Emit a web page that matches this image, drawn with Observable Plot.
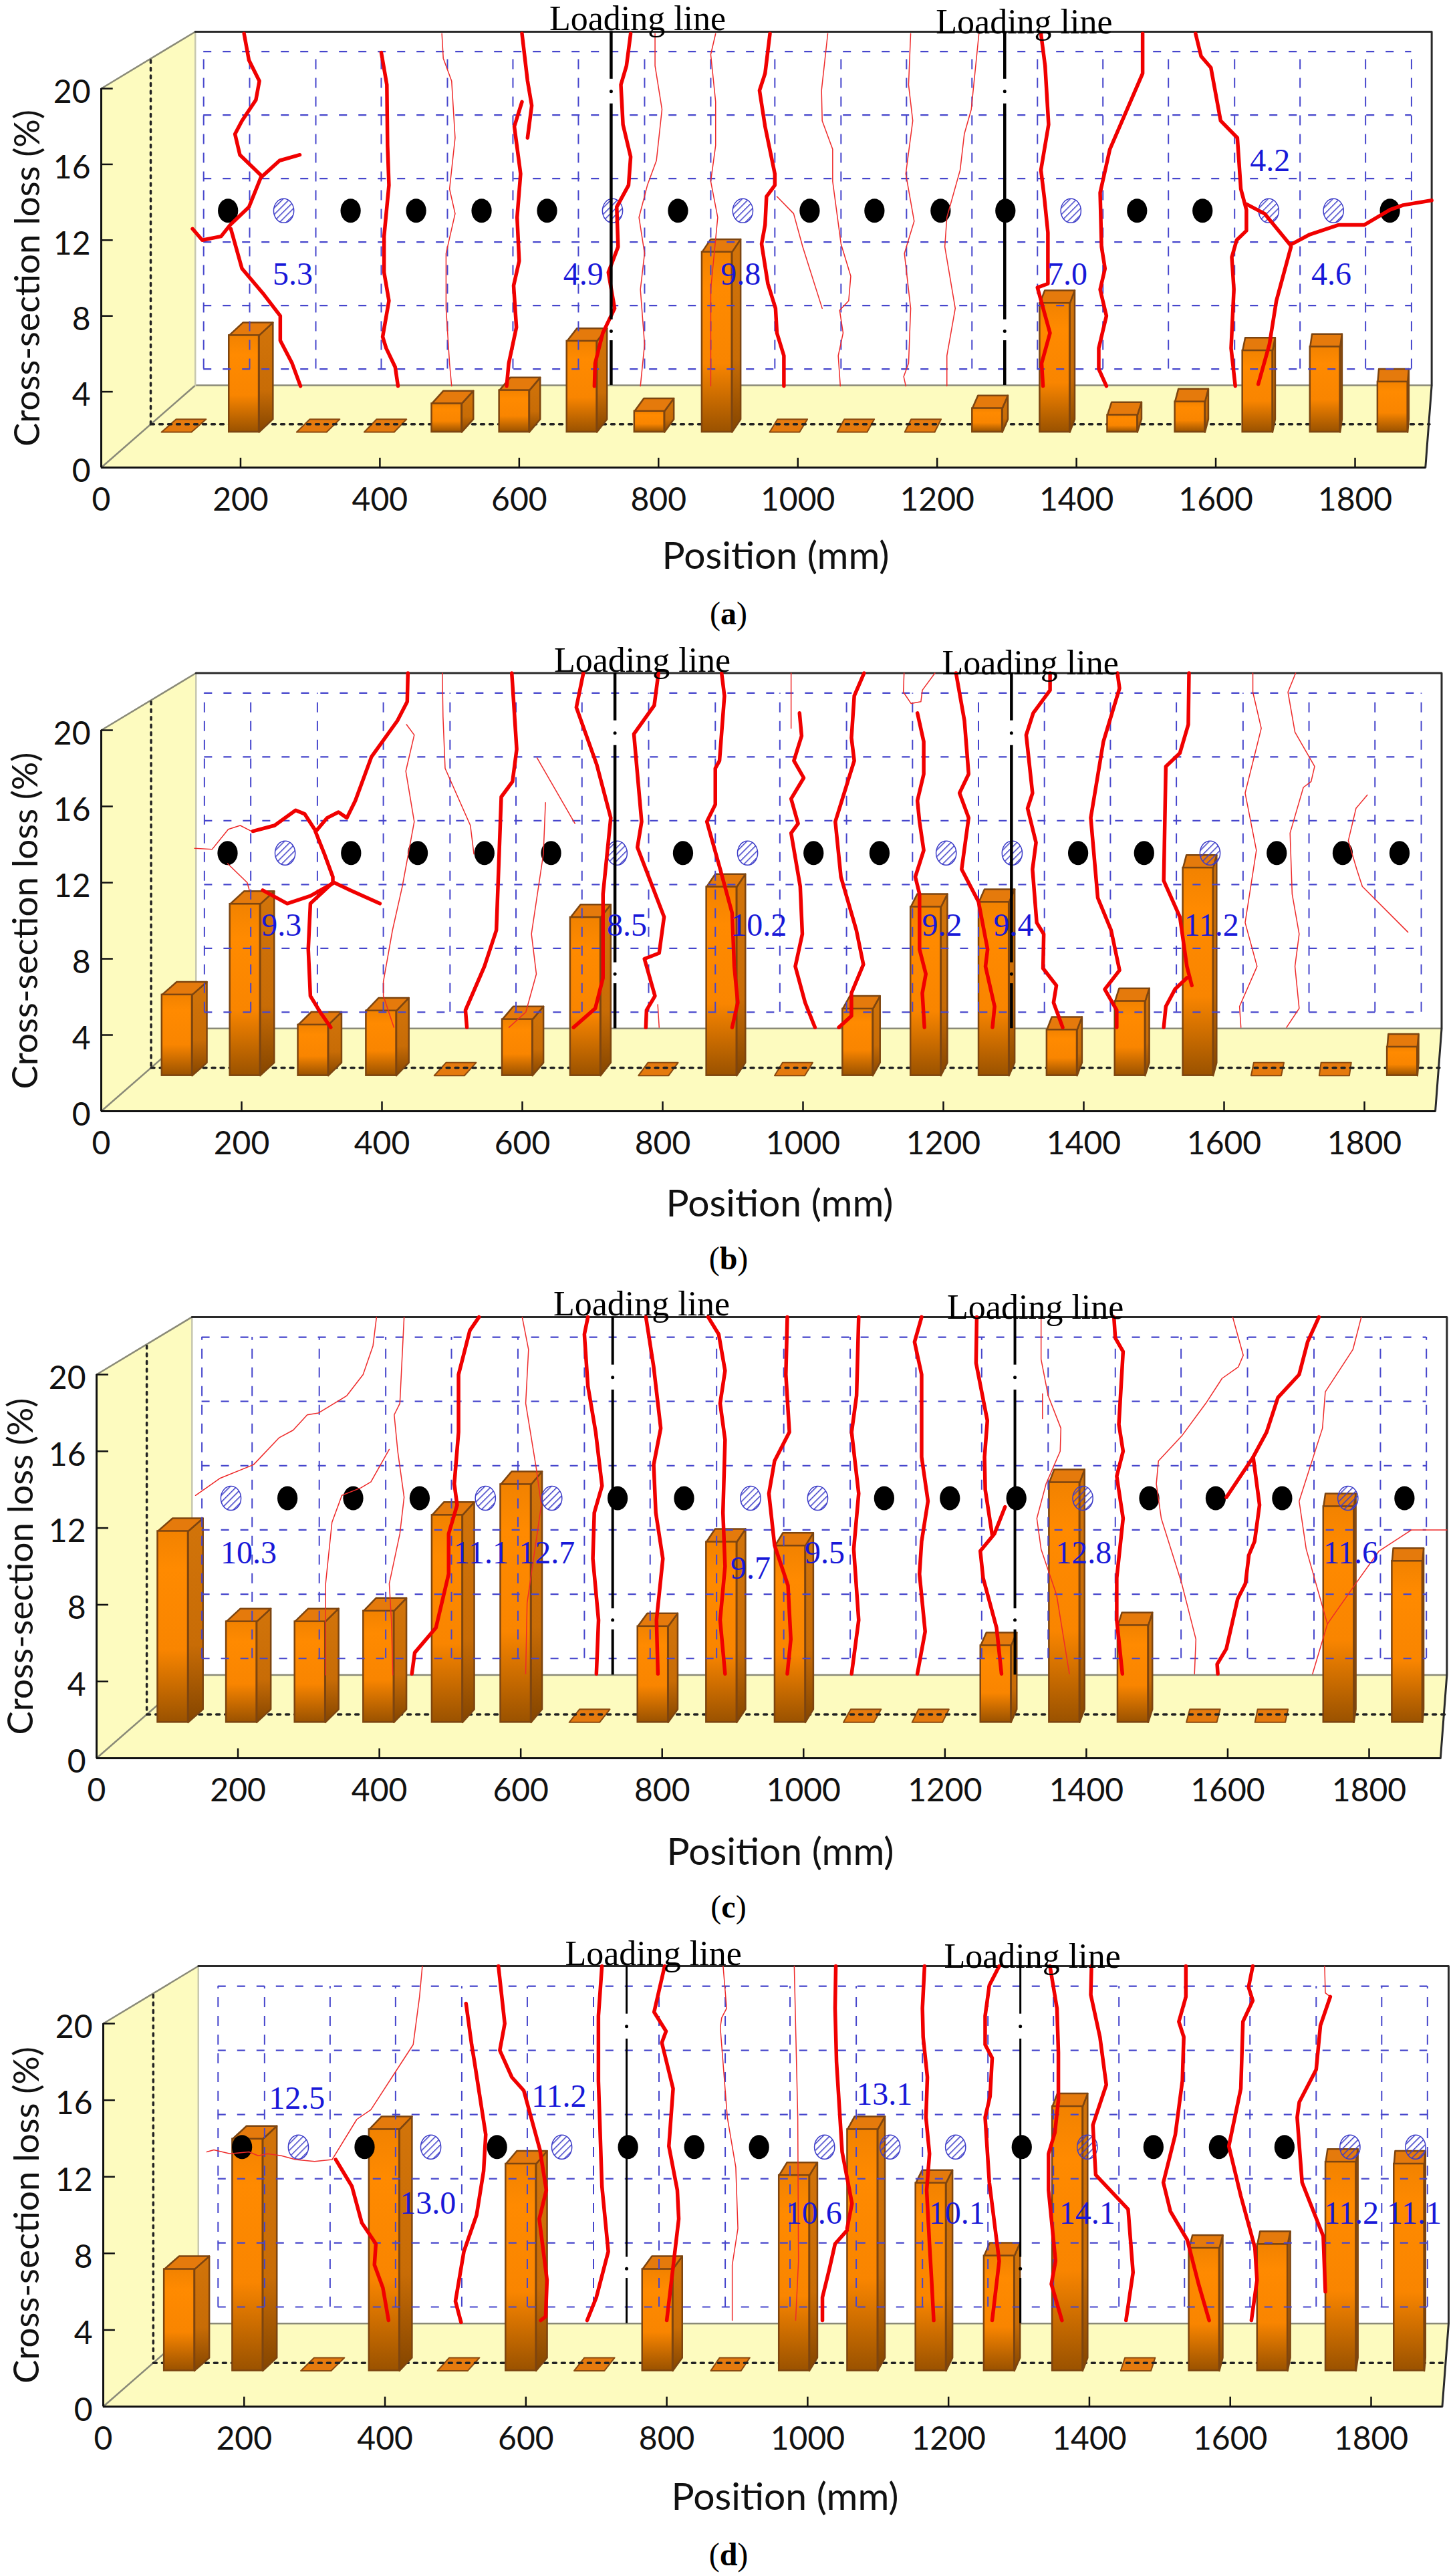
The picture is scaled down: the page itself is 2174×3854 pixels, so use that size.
<!DOCTYPE html>
<html><head><meta charset="utf-8">
<script src="https://cdn.jsdelivr.net/npm/d3@7"></script>
<script src="https://cdn.jsdelivr.net/npm/@observablehq/plot@0.6"></script>
<style>
html,body{margin:0;padding:0;background:#fff;width:2174px;height:3854px;overflow:hidden}
#root{position:relative;width:2174px;height:3854px}
.panel{position:absolute;left:0}
.cap{position:absolute;left:0;width:2180px;text-align:center;font:48px "Liberation Serif",serif;color:#000;line-height:54px}
</style></head><body><div id="root"></div>
<script>
// ---------- shared reading lists ----------
const xTicks=[0,200,400,600,800,1000,1200,1400,1600,1800];
const yTicks=[0,4,8,12,16,20];
const barCenters=[108,205,302,399,496,593,690,787,884,981,1078,1175,1272,1369,1466,1563,1660,1757,1854];
const gridLevels=[21.95,18.6,15.25,11.9,8.55,5.2];
const gridAB=[147,213,308,402,497,591,685,780,875,967,1062,1156,1250,1344,1438,1532,1627,1721,1815,1881];
const gridC=[149,220,315,409,502,596,690,783,877,972,1066,1159,1252,1346,1441,1534,1628,1722,1816,1881];
const gridD=[163,229,322,415,509,602,696,789,883,975,1069,1163,1256,1349,1442,1535,1628,1722,1815,1880];

// ---------- bar values ----------
const barsA=[0,5.1,0,0,1.5,2.2,4.8,1.1,9.5,0,0,0,1.25,6.8,0.9,1.6,4.3,4.5,2.65];
const barsB=[4.24,9.0,2.66,3.4,0,2.95,8.3,0,9.9,0,3.5,8.85,9.1,2.4,3.9,10.9,0,0,1.5];
const barsC=[9.96,5.25,5.25,5.8,10.8,12.4,0,5.0,9.4,9.2,0,0,4.0,12.5,5.05,0,0,11.25,8.4];
const barsD=[5.3,12.1,0,12.6,0,10.8,0,5.3,0,10.2,12.6,9.8,6.0,13.8,0,6.4,6.6,10.9,10.8];

// ---------- rebar hole row ----------
const solidA=[182,358,452,546,640,828,1017,1110,1205,1298,1487,1581,1850];
const hatchA=[262,734,921,1392,1676,1769];
const solidB=[180,356,451,546,641,829,1015,1109,1392,1486,1675,1769,1850];
const hatchB=[262,735,921,1204,1298,1580];
const solidC=[270,363,457,737,831,1114,1207,1301,1489,1583,1677,1850];
const hatchC=[190,550,644,925,1020,1395,1770];
const solidD=[197,371,559,745,839,931,1304,1491,1584,1677];
const hatchD=[277,465,651,1024,1117,1210,1397,1770,1863];

// ---------- loading lines ----------
const loadA=[732,1297], loadTextA=[770,1325];
const loadB=[732,1297], loadTextB=[771,1324];
const loadC=[730,1299], loadTextC=[771,1328];
const loadD=[743,1302], loadTextD=[781,1319];
const loadSpans=[[23,20.5],[19.2,7.8],[6.7,4.34]];
const loadDots=[19.85,7.2];

// ---------- value labels [text, mm, %] ----------
const labelsA=[["5.3",275,10.2],["4.9",692,10.2],["9.8",918,10.2],["7.0",1387,10.2],["4.2",1678,16.2],["4.6",1766,10.2]];
const labelsB=[["9.3",257,9.76],["8.5",749,9.76],["10.2",937,9.76],["9.2",1198,9.76],["9.4",1300,9.76],["11.2",1582,9.76]];
const labelsC=[["10.3",215,10.7],["11.1",544,10.7],["12.7",637,10.7],["9.7",925,9.9],["9.5",1030,10.7],["12.8",1396,10.7],["11.6",1774,10.7]];
const labelsD=[["12.5",275,16.1],["13.0",461,10.6],["11.2",647,16.2],["13.1",1109,16.3],["10.6",1009,10.1],["10.1",1212,10.1],["14.1",1397,10.1],["11.2",1772,10.1],["11.1",1861,10.1]];

// ---------- cracks: [thick?1:0, positions mm, heights %] ----------
const cracksA=[
[1,[205,212,227,222,202,192,199,230],[22.9,21.5,20.4,19.4,18.3,17.6,16.5,15.4]],
[1,[285,256,229,212,185,172,145,131],[16.5,16.2,15.3,13.75,12.8,12.2,12.0,12.6]],
[1,[186,202,232,257,257,274,286],[12.6,10.5,9.2,8.0,6.7,5.5,4.3]],
[1,[402,410,411,413,406,406,413,404,409,422,426],[21.9,20.2,17.0,14.9,12.2,10.3,8.8,6.9,6.3,5.3,4.3]],
[0,[489,491,503,508,500,508,495,495,500,503],[22.9,21.6,20.4,17.4,14.7,13.4,11.3,8.4,5.5,4.3]],
[1,[604,612,618,612],[22.9,20.4,19.1,17.4]],
[1,[604,593,602,597,600,592,596,585,582],[19.3,18.0,15.5,13.2,10.9,9.6,7.4,5.5,4.3]],
[1,[760,754,746,749,760,757,740,742,728,737,720,709,708],[22.9,21.2,20.2,18.1,16.4,14.9,13.75,11.65,10.3,8.4,7.1,5.5,4.3]],
[0,[795,795,805,797,784,772,780,774,780,774],[22.9,21.2,18.9,16.2,14.9,13.2,11.3,9.4,6.5,4.3]],
[0,[882,875,882,882,875,885,875,875],[22.9,21.8,19.3,17.0,15.1,13.2,9.4,4.3]],
[1,[960,953,945,953,967,967,955,953,948,957,968,970,980,980],[22.9,20.8,19.9,18.0,15.5,14.9,14.3,12.8,11.8,9.7,8.4,7.1,5.9,4.3]],
[0,[970,994,1007,1035],[14.3,13.4,11.65,8.4]],
[0,[1043,1034,1035,1050,1050,1062,1076,1073,1060,1065,1058,1061],[22.9,19.9,18.3,16.8,15.1,11.8,10.1,8.8,8.3,7.1,5.9,4.3]],
[0,[1162,1159,1165,1155,1167,1153,1162,1159,1152,1155],[22.9,20.2,18.3,15.5,13.0,11.3,8.4,5.5,4.8,4.3]],
[0,[1260,1249,1239,1233,1214,1211,1226,1214,1214],[22.9,18.9,17.6,15.7,13.2,11.65,8.4,5.9,4.3]],
[1,[1349,1355,1360,1349,1354,1359,1359,1344,1362,1350,1352],[22.9,21.2,18.1,15.7,14.2,12.4,9.7,9.5,7.1,5.5,4.3]],
[1,[1495,1495,1448,1434,1436,1441,1434,1443,1432,1432,1443],[22.9,20.8,16.8,14.5,11.65,10.5,9.4,8.0,6.3,5.2,4.3]],
[1,[1571,1579,1593,1607,1631,1636,1644,1644,1630,1623,1626,1622,1628],[22.9,21.7,21.1,18.3,17.4,14.7,13.6,12.5,12.0,11.1,9.4,6.3,4.3]],
[1,[1644,1670,1707],[13.9,13.4,11.75]],
[1,[1707,1735,1776,1813,1850,1869,1910],[11.75,12.3,12.8,12.8,13.6,13.85,14.1]],
[1,[1708,1687,1677,1661],[11.65,8.8,6.5,4.4]]
];
const cracksB=[
[1,[437,436,422,385,362,350,338,322,306],[23.0,21.5,20.5,18.6,16.3,15.4,15.7,15.4,14.7]],
[1,[216,247,277,290,304],[14.7,15.0,15.8,15.6,14.8]],
[1,[305,318,330,330,298,295,298,312,327],[14.7,13.5,12.3,12.0,10.9,8.5,6.05,5.2,4.4]],
[1,[230,265,298,332,355,397],[11.6,10.9,11.3,12.0,11.6,10.9]],
[0,[133,158,181,198,214],[13.8,13.75,14.8,15.0,14.7]],
[0,[180,208,211],[13.0,12.0,11.6]],
[0,[435,446,434,446,429,415,402,402,417],[20.3,19.75,17.85,15.2,11.8,9.5,6.8,6.05,4.4]],
[0,[486,487,490,526,531],[23,20.7,18.0,15.0,13.5]],
[1,[585,592,586,570,563,546,519,521],[23,19,17.3,16.5,9.5,7.6,5.3,4.4]],
[0,[621,675],[18.55,15.1]],
[0,[633,630,613,620,605,581],[16.2,13.5,9.3,7.2,5.2,4.4]],
[1,[687,677,706,726,715,715,704,673],[23,21.2,18.2,15.4,11.4,7,5.4,4.4]],
[1,[794,788,759,770,764,802,795,774,789,777,776],[23,21.3,19.8,15.2,13.85,10.2,8.3,8.0,6.05,5.3,4.4]],
[0,[793,795],[5.6,4.4]],
[1,[884,888,881,875,875,863,882,899,902,907,899],[23,21.8,18.4,18,16.1,15.2,12.7,10.4,7.6,5.7,4.4]],
[0,[983,983],[23,20.1]],
[1,[995,998,987,1001,983,993,983,996,999,989,1003,1017],[20.9,19.7,18.4,17.5,16.4,15.1,14.6,11.8,9.3,7.6,5.7,4.4]],
[1,[1087,1073,1069,1073,1046,1054,1076,1086,1069,1069,1051],[23,21.8,19.6,18.4,15.2,12.3,9.5,7.7,6.2,5,4.4]],
[0,[1144,1143,1154,1168,1170,1188],[23,22,21.4,21.5,22.1,23]],
[1,[1163,1172,1172,1163,1166,1172,1160,1166,1166,1175,1170,1173],[20.9,19.4,17.7,16.3,15.2,13.7,12.3,11.4,8.5,7.2,6.2,4.4]],
[1,[1218,1230,1236,1223,1236,1226,1250,1263,1260,1273,1270],[23,20.5,17.7,16.7,15.4,12.7,11,8.5,7.6,5.5,4.4]],
[1,[1352,1352,1328,1318,1327,1320,1332,1327,1333,1343,1342,1361,1357,1370],[23,22.1,20.9,19.75,16.7,15.9,14.1,12.7,9.9,9.3,7.5,6.6,5.7,4.4]],
[1,[1448,1451,1428,1410,1420,1439,1451,1430,1447,1447],[23,22.2,19.4,15.4,11.2,9.5,7.4,6.4,5.3,4.4]],
[1,[1550,1549,1537,1517,1514,1537,1547,1554],[23,20.3,18.8,18.1,12.1,10.2,7.6,6.6]],
[1,[1514,1517,1530,1547],[4.4,5.5,6.4,7]],
[0,[1641,1641,1653,1630,1646,1630,1647,1622,1624],[23,22,20.1,16.7,13.7,9.9,7.6,5.5,4.4]],
[0,[1702,1691,1701,1729,1724,1713,1694,1697,1707,1701,1707,1689],[23,22,19.9,18.1,17.3,17,14.6,11.4,9.3,7.6,5.4,4.4]],
[0,[1804,1788,1777,1789,1797,1862],[16.6,15.9,14.2,12.7,11.8,9.4]]
];
const cracksC=[
[0,[396,391,377,354,314,298,278,258,222,175,140],[23,21.5,20,18.9,18,17.9,17.1,16.7,15.3,14.6,13.7]],
[0,[435,429,421,426,435,429,414,417,419],[23,18.5,17.9,16,13.6,11.7,9.1,7.2,4.34]],
[0,[414,388,374,347,333,324,324],[16.1,14.4,14.1,13.7,12.3,9.1,4.34]],
[1,[541,528,512,512,506,510,498,498,480,450,446],[23,22.3,20,17,14.3,13.2,11.7,9.6,6.8,5.5,4.4]],
[0,[602,611,607,622,629,624,609,607],[23,21.3,18.5,15.1,13.2,11.9,8.1,4.4]],
[1,[695,690,695,706,715,704,702,710,707],[23,22.1,19.4,17,14.2,12.8,10.4,7.2,4.4]],
[1,[777,788,798,788,791,801,792,794],[23,20.4,17.2,15.3,12.8,10.4,7.2,4.4]],
[1,[865,880,889,882,889,886,889,882,889],[23,22.1,20.2,18.5,16.6,12.8,10,7.2,4.4]],
[1,[977,975,980,959,951,959,978,982,977],[23,20,17,15.5,13.8,11.1,9,6.2,4.4]],
[1,[1078,1075,1068,1078,1071,1078,1068],[23,18.9,17,13.8,10.9,7.2,4.4]],
[1,[1167,1157,1167,1167,1176,1167,1164,1172,1161],[23,21.7,20,15.7,13.4,11.3,9.6,6.6,4.4]],
[1,[1245,1244,1260,1256,1257,1267],[23,20.6,17.6,15.7,14,11.6]],
[1,[1285,1270,1250,1254,1273,1280],[13.1,11.7,10.8,9.4,6.8,4.4]],
[0,[1336,1336,1346,1364,1363,1343,1330,1336,1358,1376],[23,20.8,18.9,17.2,16,14.3,12.5,10.9,8.5,4.4]],
[0,[1338,1338],[19,17.7]],
[1,[1439,1441,1452,1446,1452,1443,1452,1443,1443,1451],[23,21.9,21.2,17.4,16,14.7,12.5,9.4,7.2,4.4]],
[0,[1607,1622,1615,1592,1569,1535,1502,1499,1506,1535,1555,1553],[23,21,20.4,19.8,18.5,16.8,15.5,14.3,12.5,9.1,6.2,4.4]],
[1,[1729,1713,1701,1671,1655,1636,1598],[23,21.7,20,18.8,17,15.7,13.6]],
[1,[1636,1645,1638,1630,1625,1614,1598,1585,1586],[15.7,13.2,11.3,10.6,9.1,8.3,5.7,4.9,4.4]],
[0,[1789,1777,1738,1734,1701,1711,1741],[23,21.3,19.1,17.2,13.4,10.9,7]],
[0,[1720,1741,1781,1814,1860,1910],[4.4,7,9.1,10.8,11.9,11.9]]
];
const cracksD=[
[0,[453,449,440,417,380,360,325,300,273,253,233,220,207,180,157,147],[23,21.4,18.9,17.6,15.5,15,12.9,12.8,12.9,13.1,13.2,13.1,13.3,13.2,13.4,13.3]],
[1,[330,353,367,387,385,397,405],[12.9,11.5,9.6,8.5,7.4,6.2,4.5]],
[1,[515,523,527,543,540,530,512,500,508],[21.05,18.9,18,14.2,12.3,10,8.1,5.5,4.4]],
[1,[561,570,563,580,597,620,629,619,630,628,621],[23,20,18.6,17.2,16.5,13.4,11.3,9.8,6.6,4.7,4.5]],
[1,[708,703,703,708,717,700,687],[23,20.4,17,11.5,8.1,5.7,4.5]],
[1,[797,782,799,793,809,803,815,817,810,800],[23,20.6,19.6,19,16.6,13.6,11.3,9.8,7.6,4.5]],
[0,[880,885,878,876,886,898,901,893,893],[23,20.8,20.3,19.8,15.1,12.5,9.3,7.4,4.5]],
[0,[981,986,987,983],[23,15.1,7.6,4.5]],
[1,[1040,1039,1041,1049,1063,1056],[23,20.8,18,13.3,10.6,9.3]],
[1,[1056,1039,1031,1021,1021],[9.2,8.5,7.2,5.7,4.5]],
[1,[1166,1163,1164,1170,1168,1173,1169,1173,1176,1179],[23,20.8,19.3,17.2,15.1,13.2,11.3,8.5,6.6,4.5]],
[1,[1272,1258,1252,1252,1262,1259,1252,1258,1272,1262],[23,22,20.4,18.9,18.2,16.2,15.1,11.7,7.6,4.5]],
[1,[1344,1354,1356,1356,1351,1342,1342,1352,1346,1361],[23,20.8,18.5,16,14.3,13.2,11.3,7.6,6.4,4.5]],
[1,[1403,1402,1415,1424,1405,1409,1455,1462,1452],[23,21.5,19.3,16.8,14.7,12.1,10.3,7,4.5]],
[1,[1537,1537,1527,1534,1532,1522,1505,1515,1539,1555,1570],[23,21.4,20.1,19.3,17,14.2,11.7,10.2,8.7,6.4,4.5]],
[1,[1632,1626,1632,1618,1615,1598,1615,1635,1638,1630],[23,21.9,21.2,20.1,16.6,13.6,11,8.3,6.6,4.5]],
[0,[1734,1735,1742],[23,21.6,21.4]],
[1,[1742,1728,1722,1698,1695,1702,1732,1735],[21.4,19.9,17.6,15.9,15.1,11.7,8.9,6]]
];

// ---------- frame of the oblique box, in axis units ----------
const wallX=135, floorBackY=4.34, topBackY=23, axisEnd=1901, backEnd=1910, midX=71, midY=2.28, midTop=21.5;
const barBase=1.87, barHalf=21.5, barDepthY=0.68, barDepthX0=21;
const creamFill="#fdfbbf", holeRow=13.55;

const panels=[
 {key:"a",top:0,height:880,y20:132,y0:699,x0:151,x1800:2027,bars:barsA,solid:solidA,hatch:hatchA,load:loadA,loadText:loadTextA,labels:labelsA,cracks:cracksA,grid:gridAB,labelDy:133,labelX:1160,yLabelX:42,cap:918,loadW:4.5},
 {key:"b",top:960,height:880,y20:132,y0:702,x0:151,x1800:2041,bars:barsB,solid:solidB,hatch:hatchB,load:loadB,loadText:loadTextB,labels:labelsB,cracks:cracksB,grid:gridAB,labelDy:139,labelX:1166,yLabelX:39,cap:1883,loadW:4.5},
 {key:"c",top:1900,height:900,y20:156,y0:730,x0:144,x1800:2048,bars:barsC,solid:solidC,hatch:hatchC,load:loadC,loadText:loadTextC,labels:labelsC,cracks:cracksC,grid:gridC,labelDy:141,labelX:1167,yLabelX:32,cap:2853,loadW:4},
 {key:"d",top:2880,height:890,y20:147,y0:720,x0:154,x1800:2051,bars:barsD,solid:solidD,hatch:hatchD,load:loadD,loadText:loadTextD,labels:labelsD,cracks:cracksD,grid:gridD,labelDy:136,labelX:1174,yLabelX:41,cap:3822,loadW:3}
];

const root=document.getElementById("root");

function ellipseSymbol(){return {draw(c,size){
  const ry=Math.sqrt(size/Math.PI), rx=ry*0.84, k=0.5523;
  c.moveTo(rx,0);
  c.bezierCurveTo(rx,k*ry,k*rx,ry,0,ry);
  c.bezierCurveTo(-k*rx,ry,-rx,k*ry,-rx,0);
  c.bezierCurveTo(-rx,-k*ry,-k*rx,-ry,0,-ry);
  c.bezierCurveTo(k*rx,-ry,rx,-k*ry,rx,0);
  c.closePath();
}}}

function draw(p){
  const W=2174;
  const k=(p.x1800-p.x0)/1800;
  const mmFromPx=px=>(px-p.x0)/k;
  const bars=p.bars.map((v,i)=>({i,v,c:barCenters[i],dx:barDepthX0*(1-i/19.5)}));
  const flats=bars.filter(b=>b.v===0), tall=bars.filter(b=>b.v>0);
  const poly=(z,pts)=>pts.map(([x,y])=>({z,x,y}));
  const flatPts=flats.flatMap(b=>poly(b.i,[[b.c-barHalf,barBase],[b.c+barHalf,barBase],[b.c+barHalf+b.dx,barBase+barDepthY],[b.c-barHalf+b.dx,barBase+barDepthY],[b.c-barHalf,barBase]]));
  const sidePts=tall.flatMap(b=>poly(b.i,[[b.c+barHalf,barBase],[b.c+barHalf+b.dx,barBase+barDepthY],[b.c+barHalf+b.dx,barBase+b.v+barDepthY],[b.c+barHalf,barBase+b.v],[b.c+barHalf,barBase]]));
  const topPts=tall.flatMap(b=>poly(b.i,[[b.c-barHalf,barBase+b.v],[b.c+barHalf,barBase+b.v],[b.c+barHalf+b.dx,barBase+b.v+barDepthY],[b.c-barHalf+b.dx,barBase+b.v+barDepthY],[b.c-barHalf,barBase+b.v]]));
  const crackRows=t=>p.cracks.flatMap((c,id)=>c[0]===t?c[1].map((x,j)=>({id,x,y:c[2][j]})):[]);
  const gridTop=gridLevels.map(y=>({y,x1:p.grid[0],x2:p.grid[p.grid.length-1]}));
  const loadRules=p.load.flatMap(x=>loadSpans.map(([y2,y1])=>({x,y1,y2})));
  const loadPts=p.load.flatMap(x=>loadDots.map(y=>({x,y})));
  const dark="#2a2a2a", grey="#8a8a78", gridCol="#4646cc", blue="#1818d8";

  const defs=()=>{
    const g=document.createElementNS("http://www.w3.org/2000/svg","defs");
    g.innerHTML=`
    <linearGradient id="front-${p.key}" x1="0" x2="0" y1="0" y2="1">
      <stop offset="0" stop-color="#f28200"/><stop offset="0.2" stop-color="#ff8a00"/><stop offset="0.62" stop-color="#f98500"/><stop offset="1" stop-color="#9a5200"/></linearGradient>
    <linearGradient id="side-${p.key}" x1="0" x2="0" y1="0" y2="1">
      <stop offset="0" stop-color="#d2740a"/><stop offset="0.62" stop-color="#c86c06"/><stop offset="1" stop-color="#844500"/></linearGradient>
    <pattern id="hatch-${p.key}" patternUnits="userSpaceOnUse" width="7" height="7" patternTransform="rotate(-45)">
      <rect width="7" height="7" fill="none"/><line x1="0" y1="0" x2="7" y2="0" stroke="#3c3cc8" stroke-width="3"/></pattern>`;
    return g;
  };

  const fig=Plot.plot({
    width:W,height:p.height,
    marginLeft:p.x0,marginRight:W-p.x1800,marginTop:p.y20,marginBottom:p.height-p.y0,
    x:{domain:[0,1800]},y:{domain:[0,20]},
    style:{background:"transparent",color:"#111",overflow:"visible"},
    marks:[
      defs,
      // left wall and floor
      Plot.line([[0,0],[wallX,floorBackY],[wallX,topBackY],[0,20]],{x:d=>d[0],y:d=>d[1],fill:creamFill,stroke:null}),
      Plot.line([[0,0],[wallX,floorBackY],[backEnd,floorBackY],[axisEnd,0]],{x:d=>d[0],y:d=>d[1],fill:creamFill,stroke:null}),
      // back edges
      Plot.line([[0,0],[wallX,floorBackY],[backEnd,floorBackY]],{x:d=>d[0],y:d=>d[1],stroke:grey,strokeWidth:2.5}),
      Plot.line([[wallX,floorBackY],[wallX,topBackY]],{x:d=>d[0],y:d=>d[1],stroke:"#c8c8b0",strokeWidth:2.5}),
      Plot.line([[0,20],[wallX,topBackY]],{x:d=>d[0],y:d=>d[1],stroke:grey,strokeWidth:2.5}),
      Plot.line([[wallX,topBackY],[backEnd,topBackY],[backEnd,floorBackY],[axisEnd,0]],{x:d=>d[0],y:d=>d[1],stroke:dark,strokeWidth:3}),
      // flat (zero) bars under the dotted line
      Plot.line(flatPts,{x:"x",y:"y",z:"z",fill:"#e57a0e",stroke:"#8a4a10",strokeWidth:2}),
      Plot.line([[midX,midTop],[midX,midY]],{x:d=>d[0],y:d=>d[1],stroke:"#222",strokeWidth:3.5,strokeDasharray:"4 7.5"}),
      Plot.line([[midX,midY],[backEnd-3,midY]],{x:d=>d[0],y:d=>d[1],stroke:"#222",strokeWidth:3.5,strokeDasharray:"5 8"}),
      // bars
      Plot.line(sidePts,{x:"x",y:"y",z:"z",fill:`url(#side-${p.key})`,stroke:"#7d4510",strokeWidth:2.5,strokeLinejoin:"round"}),
      Plot.line(topPts,{x:"x",y:"y",z:"z",fill:"#e57a0c",stroke:"#7d4510",strokeWidth:2.5,strokeLinejoin:"round"}),
      Plot.rect(tall,{x1:d=>d.c-barHalf,x2:d=>d.c+barHalf,y1:barBase,y2:d=>barBase+d.v,fill:`url(#front-${p.key})`,stroke:"#7d4510",strokeWidth:2.5}),
      // dashed grid on the back wall
      Plot.ruleY(gridTop,{y:"y",x1:"x1",x2:"x2",stroke:gridCol,strokeWidth:2.2,strokeDasharray:"12 17"}),
      Plot.ruleX(p.grid,{x:d=>d,y1:gridLevels[5],y2:gridLevels[0],stroke:gridCol,strokeWidth:2,strokeDasharray:"15 13"}),
      // holes
      Plot.dot(p.solid,{x:d=>d,y:holeRow,r:18,symbol:ellipseSymbol(),fill:"#000",stroke:null}),
      Plot.dot(p.hatch,{x:d=>d,y:holeRow,r:18,symbol:ellipseSymbol(),fill:`url(#hatch-${p.key})`,stroke:"#3c3cc8",strokeWidth:1.5}),
      // cracks
      Plot.line(crackRows(0),{x:"x",y:"y",z:"id",stroke:"#ee2a2a",strokeWidth:1.5}),
      Plot.line(crackRows(1),{x:"x",y:"y",z:"id",stroke:"#f00000",strokeWidth:5.5}),
      // loading lines
      Plot.ruleX(loadRules,{x:"x",y1:"y1",y2:"y2",stroke:"#000",strokeWidth:p.loadW}),
      Plot.dot(loadPts,{x:"x",y:"y",r:2.5,fill:"#000",stroke:null}),
      Plot.text(p.loadText,{x:d=>d,y:(d,i)=>topBackY-0.15*i,text:()=>"Loading line",lineAnchor:"bottom",dy:-2,fontFamily:"Liberation Serif",fontSize:52,fill:"#000"}),
      // value labels
      Plot.text(p.labels,{x:d=>d[1],y:d=>d[2],text:d=>d[0],fontFamily:"Liberation Serif",fontSize:48,fill:blue}),
      // axes
      Plot.ruleX([0],{y1:0,y2:20,stroke:"#111",strokeWidth:3}),
      Plot.ruleY([0],{x1:0,x2:axisEnd,stroke:"#111",strokeWidth:3}),
      Plot.ruleX(xTicks.slice(1),{x:d=>d,y1:0,y2:0.5,stroke:"#111",strokeWidth:2.5}),
      Plot.ruleY(yTicks.slice(1),{y:d=>d,x1:0,x2:17,stroke:"#111",strokeWidth:2.5}),
      Plot.axisX({ticks:xTicks,tickSize:0,tickPadding:30,tickFormat:d=>String(d),label:null,fontFamily:"Lato",fontSize:48}),
      Plot.axisY({ticks:yTicks,tickSize:0,tickPadding:16,dy:6,tickFormat:d=>String(d),label:null,fontFamily:"Lato",fontSize:48}),
      Plot.text(["Position (mm)"],{x:mmFromPx(p.labelX),y:-p.labelDy/((p.y0-p.y20)/20),text:d=>d,fontFamily:"Lato",fontSize:57,fill:"#111"}),
      Plot.text(["Cross-section loss (%)"],{x:mmFromPx(p.yLabelX),y:10,text:d=>d,rotate:-90,fontFamily:"Lato",fontSize:53,fill:"#111"})
    ]
  });
  const box=document.createElement("div");
  box.className="panel";box.style.top=p.top+"px";
  box.appendChild(fig);root.appendChild(box);
  const cap=document.createElement("div");
  cap.className="cap";cap.style.top=(p.cap-27)+"px";
  cap.innerHTML=`(<b>${p.key}</b>)`;root.appendChild(cap);
}
panels.forEach(draw);
</script></body></html>
